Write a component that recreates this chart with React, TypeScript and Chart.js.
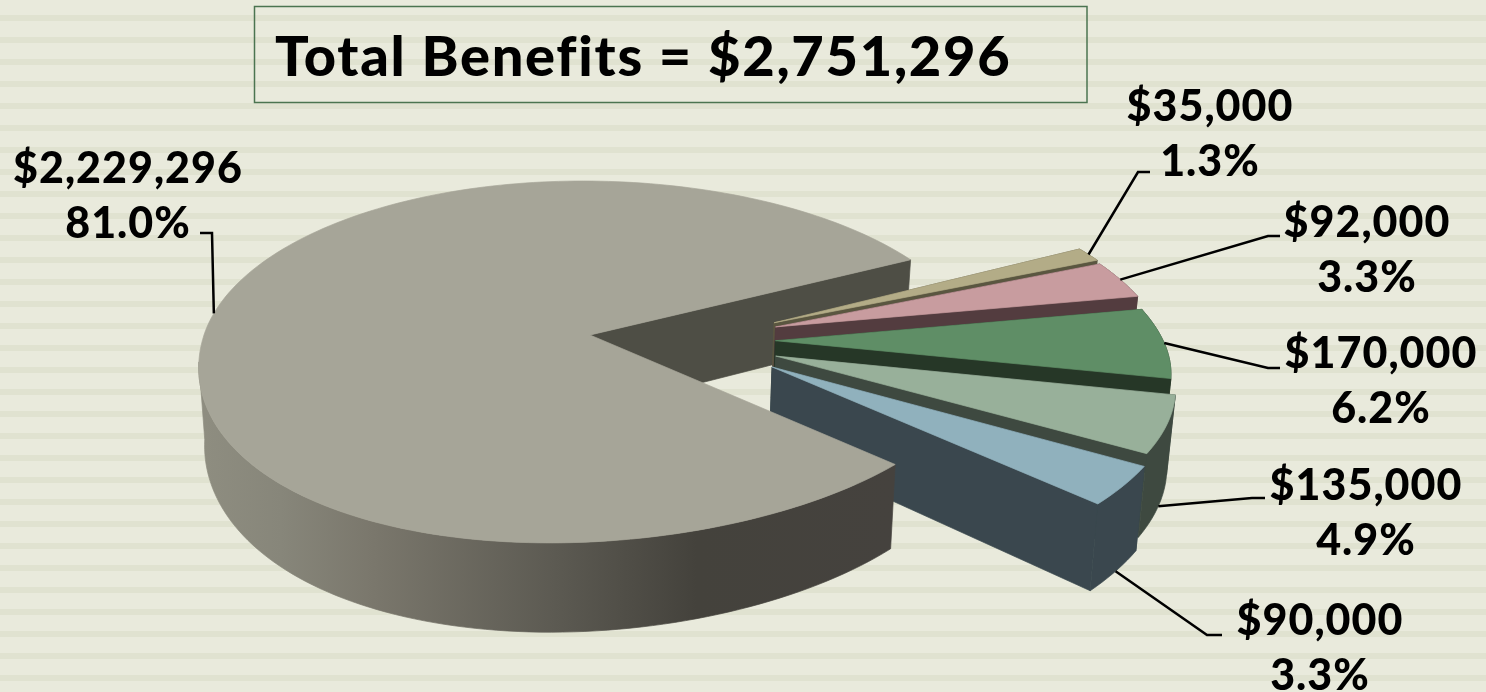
import React, { useEffect, useRef } from "react";
import { Chart, registerables } from "chart.js";

Chart.register(...registerables);

// Benefit amounts, clockwise from the large slice.
const categories = ["Largest", "A", "B", "C", "D", "E"];
const amounts = [2229296, 35000, 92000, 170000, 135000, 90000];
const titleText = "Total Benefits = $2,751,296";

const topColors = ["#A6A598", "#B3AC87", "#C89C9F", "#5F8E66", "#98B09A", "#90B1BD"];
const wallColors = ["#4E4E45", "#5A5640", "#533C3F", "#263727", "#3E4940", "#3A474E"];

// Explosion of each slice, in units of the pie radius.
const sliceShiftU = [0, 0.482, 0.484, 0.478, 0.474, 0.462];
const sliceShiftV = [0, -0.07, -0.046, 0.032, 0.117, 0.176];

// Label block centres, leader elbows, and whether a leader lands on the slice's lower rim.
const labelX = [128, 1210, 1367, 1381, 1366, 1320];
const labelY = [183, 121, 237, 368, 500, 635];
const elbowX = [[200, 212], [1150, 1138], [1280, 1268], [1280, 1268], [1265, 1252], [1222, 1207]];
const elbowY = [233, 172, 236, 368, 498, 635];
const leaderOnLowerRim = [false, false, false, false, true, true];

const FONT = "Lato, sans-serif";
const LINE_GAP = 55;

// Tilted disc camera.
const APEX_X = 590;
const APEX_Y = 335;
const SPREAD_X = 386;
const SPREAD_Y = 127;
const PERSPECTIVE = -0.149;
const BEND_NEAR = -34;
const BEND_FAR = -8;
const DEPTH = 76;
const TAPER = 0.985;

type P = { x: number; y: number };

function project(u: number, v: number, low = false): P {
  const w = 1 + PERSPECTIVE * v;
  const bend = (v > 0 ? BEND_NEAR : BEND_FAR) * v * v;
  let x = APEX_X + (SPREAD_X * u + bend) / w;
  let y = (SPREAD_Y * v + APEX_Y) / w;
  if (low) {
    x = APEX_X + (x - APEX_X) * TAPER;
    y += DEPTH / w;
  }
  return { x, y };
}

function rimPoints(i: number, a0: number, a1: number, low = false): P[] {
  const steps = Math.max(2, Math.ceil(Math.abs(a1 - a0) * 40));
  const pts: P[] = [];
  for (let s = 0; s <= steps; s++) {
    const a = a0 + ((a1 - a0) * s) / steps;
    pts.push(project(sliceShiftU[i] + Math.cos(a), sliceShiftV[i] + Math.sin(a), low));
  }
  return pts;
}

function fillPoly(ctx: CanvasRenderingContext2D, pts: P[], fill: string | CanvasGradient) {
  ctx.beginPath();
  pts.forEach((p, k) => (k ? ctx.lineTo(p.x, p.y) : ctx.moveTo(p.x, p.y)));
  ctx.closePath();
  ctx.fillStyle = fill;
  ctx.fill();
  // A hairline of the same colour closes the antialiasing seams between faces.
  ctx.strokeStyle = fill;
  ctx.lineWidth = 0.7;
  ctx.stroke();
}

function radialWall(ctx: CanvasRenderingContext2D, i: number, a: number, fill: string) {
  const du = sliceShiftU[i];
  const dv = sliceShiftV[i];
  const tip = { u: du + Math.cos(a), v: dv + Math.sin(a) };
  fillPoly(
    ctx,
    [project(du, dv), project(tip.u, tip.v), project(tip.u, tip.v, true), project(du, dv, true)],
    fill,
  );
}

function outerWall(
  ctx: CanvasRenderingContext2D,
  i: number,
  a0: number,
  a1: number,
  fill: string | CanvasGradient,
) {
  fillPoly(ctx, [...rimPoints(i, a0, a1), ...rimPoints(i, a0, a1, true).reverse()], fill);
}

function topFace(ctx: CanvasRenderingContext2D, i: number, a0: number, a1: number, fill: string) {
  fillPoly(ctx, [project(sliceShiftU[i], sliceShiftV[i]), ...rimPoints(i, a0, a1)], fill);
}

const solidPie = {
  id: "solidPie",
  // The doughnut controller supplies each slice's angles; the solid is painted back to front.
  beforeDatasetDraw(chart: Chart) {
    const ctx = chart.ctx;
    const arcs = chart.getDatasetMeta(0).data as any[];
    const big = arcs[0];

    radialWall(ctx, 0, big.endAngle, wallColors[0]);

    for (let i = 1; i < arcs.length; i++) {
      const { startAngle: a0, endAngle: a1 } = arcs[i];
      radialWall(ctx, i, a0, wallColors[i]);
      outerWall(ctx, i, a0, a1, wallColors[i]);
      radialWall(ctx, i, a1, wallColors[i]);
      topFace(ctx, i, a0, a1, topColors[i]);
    }

    const sweep = ctx.createLinearGradient(205, 0, 892, 0);
    sweep.addColorStop(0, "#8E8D80");
    sweep.addColorStop(0.11, "#87867A");
    sweep.addColorStop(0.245, "#7A776C");
    sweep.addColorStop(0.51, "#5C5A52");
    sweep.addColorStop(0.715, "#44423C");
    sweep.addColorStop(1, "#45423E");
    outerWall(ctx, 0, big.startAngle, Math.PI - Math.asin(-PERSPECTIVE), sweep);
    topFace(ctx, 0, big.startAngle, big.endAngle, topColors[0]);
    return false;
  },
  afterDatasetsDraw(chart: Chart) {
    const ctx = chart.ctx;
    const arcs = chart.getDatasetMeta(0).data as any[];
    const total = amounts.reduce((a, b) => a + b, 0);

    ctx.save();
    ctx.strokeStyle = "#4B7450";
    ctx.lineWidth = 1.5;
    ctx.strokeRect(254.5, 6.5, 832.5, 96);

    ctx.fillStyle = "#000";
    ctx.textBaseline = "alphabetic";
    ctx.textAlign = "left";
    ctx.font = `900 56px ${FONT}`;
    (ctx as any).letterSpacing = "1.7px";
    ctx.fillText(titleText, 275, 76);

    ctx.strokeStyle = "#000";
    ctx.lineWidth = 2.5;
    ctx.lineJoin = "miter";
    arcs.forEach((arc, i) => {
      const mid = (arc.startAngle + arc.endAngle) / 2;
      const end = project(
        sliceShiftU[i] + Math.cos(mid),
        sliceShiftV[i] + Math.sin(mid),
        leaderOnLowerRim[i],
      );
      ctx.beginPath();
      ctx.moveTo(elbowX[i][0], elbowY[i]);
      ctx.lineTo(elbowX[i][1], elbowY[i]);
      ctx.lineTo(end.x, end.y);
      ctx.stroke();

      ctx.textAlign = "center";
      ctx.font = `900 43px ${FONT}`;
      (ctx as any).letterSpacing = "1px";
      const money = "$" + amounts[i].toLocaleString("en-US");
      const share = ((amounts[i] / total) * 100).toFixed(1) + "%";
      ctx.fillText(money, labelX[i], labelY[i]);
      ctx.fillText(share, labelX[i], labelY[i] + LINE_GAP);
    });
    ctx.restore();
  },
};

export default function App() {
  const ref = useRef<HTMLCanvasElement>(null);

  useEffect(() => {
    const chart = new Chart(ref.current!, {
      type: "pie",
      data: {
        labels: categories,
        datasets: [{ data: amounts, backgroundColor: topColors, borderWidth: 0 }],
      },
      options: {
        responsive: false,
        animation: false,
        rotation: 131.3,
        events: [],
        plugins: { legend: { display: false }, tooltip: { enabled: false } },
      },
      plugins: [solidPie],
    });
    return () => chart.destroy();
  }, []);

  return (
    <div
      style={{
        position: "fixed",
        inset: 0,
        backgroundColor: "#E9EADC",
        backgroundImage:
          "repeating-linear-gradient(to bottom, #E9EADC 0 15px, #E0E2D0 15px 21px, #E9EADC 21px 22px)",
      }}
    >
      <canvas ref={ref} width={1486} height={692} style={{ display: "block" }} />
    </div>
  );
}
